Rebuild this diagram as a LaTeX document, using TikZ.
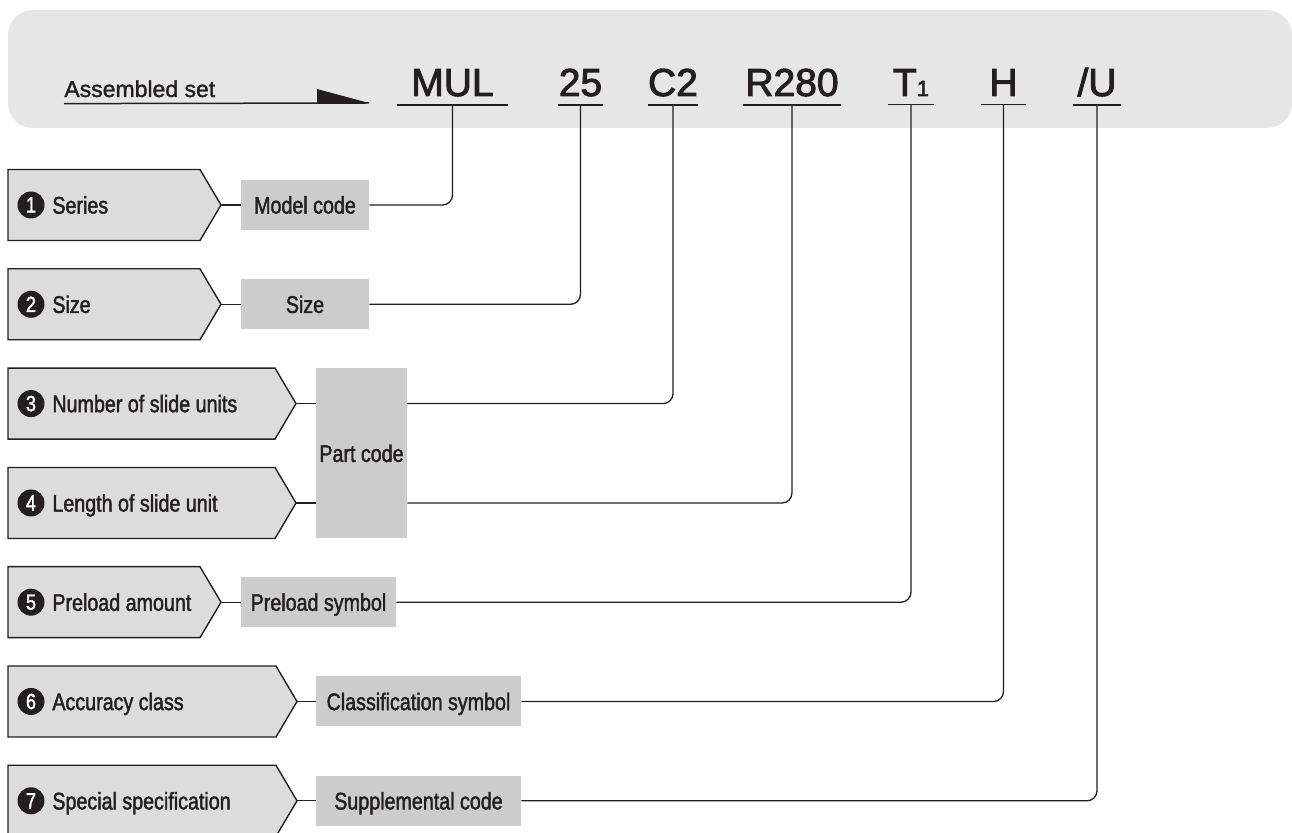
\documentclass[tikz,border=0pt]{standalone}
\usepackage{fontspec}
\setmainfont{Liberation Sans}
\newfontfamily\condfont[FakeStretch=0.82,FakeBold=1.7]{Liberation Sans}
\newfontfamily\codefont[FakeBold=2.4]{Liberation Sans}
\newfontfamily\asmfont[FakeBold=1.4]{Liberation Sans}
\definecolor{bandgray}{HTML}{E6E6E6}
\definecolor{chevgray}{HTML}{DCDCDC}
\definecolor{boxgray}{HTML}{CCCCCC}
\definecolor{ink}{HTML}{231F20}

\tikzset{
  chev/.style={fill=chevgray,draw=ink,line width=0.7pt,line join=miter},
  codebox/.style={fill=boxgray,inner sep=0pt,text height=8.6pt,text depth=0pt,
    font=\condfont\fontsize{12}{14}\selectfont,text=ink},
  lbl/.style={anchor=west,inner sep=0pt,text height=8.6pt,text depth=0pt,
    font=\condfont\fontsize{12}{14}\selectfont,text=ink},
  num/.style={circle,fill=ink,text=white,inner sep=0pt,minimum size=13.5pt,
    font=\condfont\fontsize{11}{12}\selectfont},
  code/.style={anchor=base,inner xsep=0pt,inner ysep=4pt,
    font=\codefont\fontsize{19.5}{22}\selectfont,text=ink},
  asm/.style={anchor=base west,inner xsep=0pt,inner ysep=3pt,
    font=\asmfont\fontsize{11.5}{13}\selectfont,text=ink},
  uline/.style={draw=ink,line width=0.8pt},
  wire/.style={draw=ink,line width=0.65pt,rounded corners=5pt},
}
% chevron: centre y, x where the point starts, name of its tip
\newcommand{\chevron}[3]{%
  \draw[chev] (8,{#1-35.5}) -- (#2,{#1-35.5}) -- ({#2+21},#1) -- (#2,{#1+35.5}) -- (8,{#1+35.5}) -- cycle;
  \coordinate (#3) at ({#2+21},#1);}

\begin{document}
\begin{tikzpicture}[x=0.5pt,y=-0.5pt]
  \useasboundingbox (0,0) rectangle (1292,833);

  % band with the code
  \fill[bandgray,rounded corners=12.5pt] (8,10) rectangle (1292,128);
  \node[asm] (asm) at (64,97) {Assembled set};
  \coordinate (asmtip) at (369,103);
  \draw[line width=0.75pt,draw=ink] (asm.south west) -- (asmtip);
  \fill[ink] (asmtip) -- ++(-52,0) -- ++(0,-14) -- cycle;

  \node[code,minimum width=55.5pt] (mul) at (452.5,96) {MUL};
  \node[code,minimum width=22.5pt] (sz25) at (580.5,96) {25};
  \node[code,minimum width=23pt] (c2) at (673,96) {C2};
  \node[code,minimum width=49pt] (r280) at (792,96) {R280};
  \node[code,minimum width=23pt] (t1) at (911,96) {T{\fontsize{11}{12}\selectfont 1}};
  \node[code,minimum width=22.5pt] (hh) at (1003.5,96) {H};
  \node[code,minimum width=24pt] (uu) at (1097,96) {/U};
  \foreach \c in {mul,sz25,c2,r280,t1,hh,uu}
    \draw[uline] (\c.south west) -- (\c.south east);

  % items
  \chevron{205}{200}{tip1}
  \chevron{304.3}{200}{tip2}
  \chevron{403.6}{275}{tip3}
  \chevron{503}{275}{tip4}
  \chevron{602.2}{200}{tip5}
  \chevron{701.5}{276}{tip6}
  \chevron{800.8}{276}{tip7}

  \node[num] (n1) at (31,205) {1};     \node[lbl] (series) at (52,205) {Series};
  \node[num] (n2) at (31,304.3) {2};   \node[lbl] (size) at (52,304.3) {Size};
  \node[num] (n3) at (31,403.6) {3};   \node[lbl] (units) at (52,403.6) {Number of slide units};
  \node[num] (n4) at (31,503) {4};     \node[lbl] (length) at (52,503) {Length of slide unit};
  \node[num] (n5) at (31,602.2) {5};   \node[lbl] (preload) at (52,602.2) {Preload amount};
  \node[num] (n6) at (31,701.5) {6};   \node[lbl] (accuracy) at (52,701.5) {Accuracy class};
  \node[num] (n7) at (31,800.8) {7};   \node[lbl] (special) at (52,800.8) {Special specification};

  % grey boxes
  \node[codebox,minimum width=64pt,minimum height=25pt] (model) at (305,205) {Model code};
  \node[codebox,minimum width=64pt,minimum height=25pt] (sizebox) at (305,304.3) {Size};
  \node[codebox,minimum width=45.5pt,minimum height=85pt] (part) at (361.5,453.3) {Part code};
  \node[codebox,minimum width=77.5pt,minimum height=25pt] (presym) at (318.5,602.2) {Preload symbol};
  \node[codebox,minimum width=102.5pt,minimum height=25pt] (clsym) at (418.5,701.5) {Classification symbol};
  \node[codebox,minimum width=102.5pt,minimum height=25pt] (supp) at (418.5,800.8) {Supplemental code};

  % connectors
  \draw[wire] (tip1) -- (model.west);
  \draw[wire] (tip2) -- (sizebox.west);
  \draw[wire] (tip3) -- (part.west |- tip3);
  \draw[wire] (tip4) -- (part.west |- tip4);
  \draw[wire] (tip5) -- (presym.west);
  \draw[wire] (tip6) -- (clsym.west);
  \draw[wire] (tip7) -- (supp.west);

  \draw[wire] (model.east) -| (mul.south);
  \draw[wire] (sizebox.east) -| (sz25.south);
  \draw[wire] (part.east |- tip3) -| (c2.south);
  \draw[wire] (part.east |- tip4) -| (r280.south);
  \draw[wire] (presym.east) -| (t1.south);
  \draw[wire] (clsym.east) -| (hh.south);
  \draw[wire] (supp.east) -| (uu.south);
\end{tikzpicture}
\end{document}
